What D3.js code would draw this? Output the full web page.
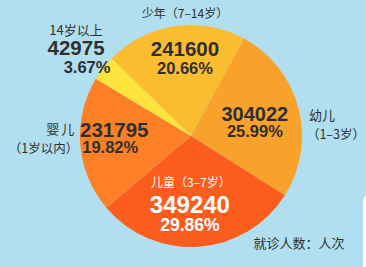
<!DOCTYPE html>
<html lang="zh">
<head>
    <meta charset="UTF-8">
    <title>就诊人数</title>
    <script src="https://cdn.jsdelivr.net/npm/d3@7"></script>
    <style>
        body { margin: 0; padding: 0; background: #b1dff0; }
        svg { display: block; }
        .cn { font-family: "Noto Sans CJK SC", "Noto Sans", sans-serif; }
        .num { font-family: "Liberation Sans", Arial, sans-serif; font-weight: bold; }
    </style>
</head>
<body>
<svg id="chart"></svg>
<script>
    const width = 366;
    const height = 267;

    // data
    const categories = ["少年（7–14岁）", "幼儿", "儿童（3–7岁）", "婴儿", "14岁以上"];
    const subLabels = ["", "（1–3岁）", "", "（1岁以内）", ""];
    const visits = [241600, 304022, 349240, 231795, 42975];
    const shares = ["20.66%", "25.99%", "29.86%", "19.82%", "3.67%"];
    const colors = ["#fbbd30", "#f9a22b", "#fd5c1f", "#fd7f26", "#fde43c"];
    const unitNote = "就诊人数：人次";

    const cx = 191, cy = 136, radius = 111;
    const start = -45.7 * Math.PI / 180;

    const svg = d3.select("#chart").attr("width", width).attr("height", height);

    svg.append("rect").attr("width", width).attr("height", height).attr("fill", "#b1dff0");
    // white panel peeking in at bottom right
    svg.append("rect").attr("x", 363).attr("y", 193).attr("width", 30).attr("height", 100)
        .attr("rx", 9).attr("fill", "#ffffff");

    const pie = d3.pie().sort(null).value(d => d)
        .startAngle(start).endAngle(start + 2 * Math.PI);
    const arcs = pie(visits);
    const arc = d3.arc().innerRadius(0).outerRadius(radius);

    const g = svg.append("g").attr("transform", `translate(${cx},${cy})`);
    g.selectAll("path")
        .data(arcs)
        .enter().append("path")
        .attr("d", arc)
        .attr("fill", (d, i) => colors[i]);

    // label placement: radius from centre, nudges, and where the other lines go
    const layout = [
        { r: 88, dx: 7, dy: 0, color: "#2f2f2f", numSize: 20.5, pctSize: 16.5, title: [-35, 0], pct: 19 },
        { r: 66, dx: 0, dy: -6, color: "#2f2f2f", numSize: 20, pctSize: 16.5, outer: [54, 2, 19], pct: 18 },
        { r: 70, dx: -6, dy: -1, color: "#ffffff", numSize: 24, pctSize: 17.5, title: [-22, 1], pct: 20 },
        { r: 77, dx: 0, dy: -13, color: "#2f2f2f", numSize: 20.5, pctSize: 16.5, outer: [-38, 0, 19], pct: 18, pdx: -4 },
        { r: 144, dx: -1, dy: 0, color: "#2f2f2f", numSize: 20.5, pctSize: 16.5, title: [-18, 0], pct: 19, pdx: 11 }
    ];

    arcs.forEach((d, i) => {
        const L = layout[i];
        const a = (d.startAngle + d.endAngle) / 2;
        const x = cx + L.r * Math.sin(a) + L.dx;
        const y = cy - L.r * Math.cos(a) + L.dy;

        svg.append("text").attr("class", "num")
            .attr("x", x).attr("y", y).attr("dy", "0.36em")
            .attr("text-anchor", "middle")
            .attr("font-size", L.numSize).attr("fill", L.color)
            .text(visits[i]);

        svg.append("text").attr("class", "num")
            .attr("x", x + (L.pdx || 0)).attr("y", y + L.pct).attr("dy", "0.36em")
            .attr("text-anchor", "middle")
            .attr("font-size", L.pctSize).attr("fill", L.color)
            .text(shares[i]);

        if (L.title) {
            svg.append("text").attr("class", "cn")
                .attr("x", x + L.title[1]).attr("y", y + L.title[0]).attr("dy", "0.36em")
                .attr("text-anchor", "middle")
                .attr("font-size", i === 4 ? 13 : 12).attr("fill", L.color)
                .text(categories[i]);
        }
        if (L.outer) {
            const ox = x + L.outer[0];
            const anchor = L.outer[0] > 0 ? "start" : "end";
            svg.append("text").attr("class", "cn")
                .attr("x", ox).attr("y", y + L.outer[1]).attr("dy", "0.36em")
                .attr("text-anchor", anchor)
                .attr("font-size", 13).attr("fill", "#2f2f2f")
                .attr("letter-spacing", i === 3 ? 2 : 0)
                .text(categories[i]);
            svg.append("text").attr("class", "cn")
                .attr("x", ox + (anchor === "start" ? -2 : 2)).attr("y", y + L.outer[1] + L.outer[2]).attr("dy", "0.36em")
                .attr("text-anchor", anchor)
                .attr("font-size", 12.5).attr("fill", "#2f2f2f")
                .text(subLabels[i]);
        }
    });

    svg.append("text").attr("class", "cn")
        .attr("x", 299).attr("y", 243).attr("dy", "0.36em")
        .attr("text-anchor", "middle")
        .attr("font-size", 13).attr("fill", "#2f2f2f")
        .text(unitNote);
</script>
</body>
</html>
